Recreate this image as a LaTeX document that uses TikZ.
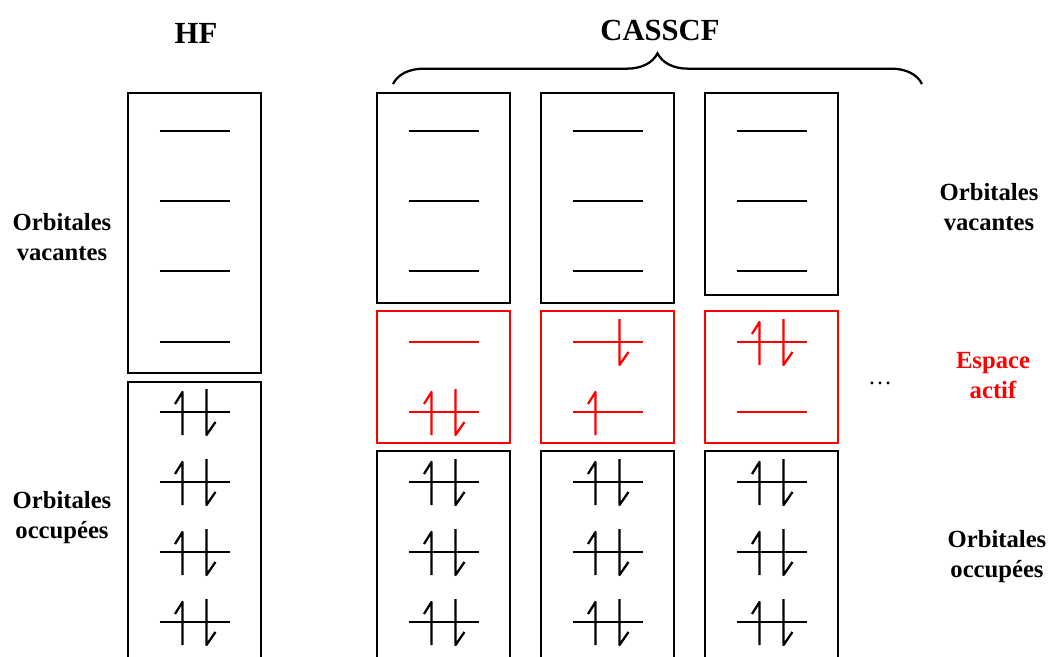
\documentclass[tikz,border=0pt]{standalone}
\usepackage{fontspec}
\setmainfont{Liberation Serif}
\usepackage{xcolor}
\usepackage{tikz}
\usetikzlibrary{positioning,decorations.pathreplacing}
\definecolor{actred}{RGB}{255,0,0}
\tikzset{
  lbl/.style={font=\fontsize{18.5}{22.5}\selectfont\bfseries, align=center, inner sep=0pt},
  ttl/.style={font=\fontsize{23}{26}\selectfont\bfseries, inner sep=0pt},
  boxline/.style={line width=1.7pt},
  lvl/.pic={\draw[line width=1.7pt] (-35,0) -- (35,0);},
  eup/.pic={\draw[line width=1.7pt, line join=round] (-19.5,-8) -- (-12,-20) -- (-12,23);},
  edn/.pic={\draw[line width=1.7pt, line join=round] (12,-23) -- (12,23) -- (21,10);}
}
\begin{document}
\begin{tikzpicture}[x=0.75pt, y=-0.75pt]
\useasboundingbox (0,0) rectangle (1051,657);
% Titles
\node[ttl] (hf) at (196,33) {HF};
\node[ttl] (cas) at (660,30) {CASSCF};
\draw[line width=1.7pt, decorate, decoration={brace, amplitude=23pt}] (393,84) -- (922,84);
% HF column
\draw[boxline] (128,93) rectangle (261,373);
\draw[boxline] (128,670) |- (261,382) -- (261,670);
\foreach \y in {131,201,271,342} \pic at (194.5,\y) {lvl};
\foreach \y in {412,482,552,622} {
  \pic at (194.5,\y) {lvl};
  \pic at (194.5,\y) {eup};
  \pic at (194.5,\y) {edn};
}
% CASSCF columns: left edge / centre / bottom of the vacant box
\foreach \xl/\xc/\yb in {377/443.5/303, 541/607.5/303, 705/771.5/295} {
  \draw[boxline] (\xl,93) rectangle (\xl+133,\yb);
  \draw[boxline, actred] (\xl,311) rectangle (\xl+133,443);
  \draw[boxline] (\xl,670) |- (\xl+133,451) -- (\xl+133,670);
  \foreach \y in {131,201,271} \pic at (\xc,\y) {lvl};
  \foreach \y in {482,552,622} {
    \pic at (\xc,\y) {lvl};
    \pic at (\xc,\y) {eup};
    \pic at (\xc,\y) {edn};
  }
  \foreach \y in {342,412} \pic[actred] at (\xc,\y) {lvl};
}
% Active space occupations
\pic[actred] at (443.5,412) {eup};
\pic[actred] at (443.5,412) {edn};
\pic[actred] at (607.5,342) {edn};
\pic[actred] at (607.5,412) {eup};
\pic[actred] at (771.5,342) {eup};
\pic[actred] at (771.5,342) {edn};
% Labels
\node[lbl] (vacL) at (62,237) {Orbitales\\vacantes};
\node[lbl] (occL) at (62,518) {Orbitales\\occupées};
\node[lbl] (vacR) at (989,207) {Orbitales\\vacantes};
\node[lbl, actred] (actR) at (993,376) {Espace\\actif};
\node[lbl] (occR) at (997,557) {Orbitales\\occupées};
\node[font=\fontsize{18}{20}\selectfont, inner sep=0pt] (dots) at (880,383) {\dots};
\end{tikzpicture}
\end{document}
